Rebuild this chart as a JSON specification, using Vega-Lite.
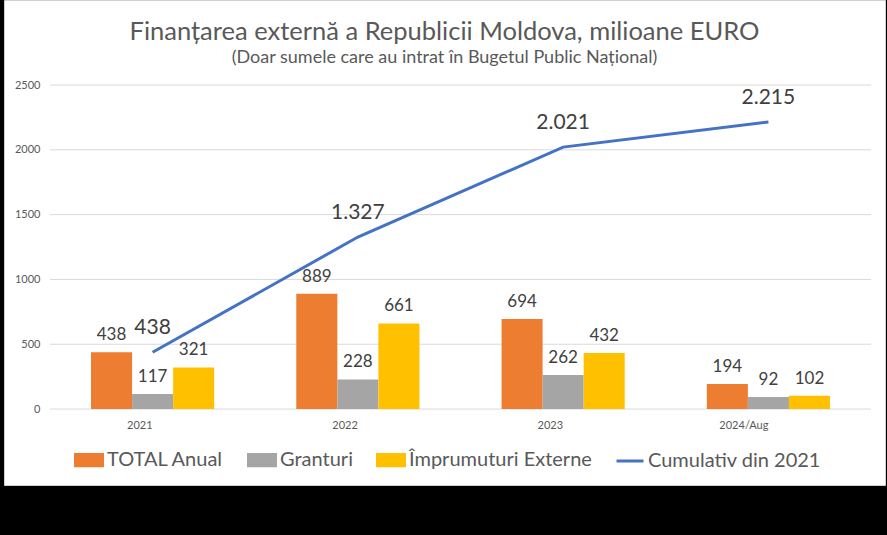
{
  "$schema": "https://vega.github.io/schema/vega-lite/v6.json",
  "description": "Finanțarea externă a Republicii Moldova, milioane EURO",
  "width": 881,
  "height": 485,
  "autosize": {"type": "none"},
  "padding": {"left": 4, "top": 0, "right": 2, "bottom": 50},
  "background": "black",
  "config": {
    "view": {"fill": "white", "stroke": "#d0d0d0"},
    "font": "Lato",
    "locale": {
      "number": {"decimal": ",", "thousands": ".", "grouping": [3], "currency": ["", " €"]}
    }
  },
  "title": {
    "text": "Finanțarea externă a Republicii Moldova, milioane EURO",
    "subtitle": "(Doar sumele care au intrat în Bugetul Public Național)",
    "anchor": "middle",
    "frame": "group",
    "offset": -67,
    "font": "Lato",
    "fontSize": 25.5,
    "fontWeight": "normal",
    "color": "#595959",
    "subtitleFont": "Lato",
    "subtitleFontSize": 18,
    "subtitleColor": "#595959",
    "subtitlePadding": 4
  },
  "datasets": {
    "bare": [
      {"an": "2021", "serie": "TOTAL Anual", "valoare": 438},
      {"an": "2021", "serie": "Granturi", "valoare": 117},
      {"an": "2021", "serie": "Împrumuturi Externe", "valoare": 321},
      {"an": "2022", "serie": "TOTAL Anual", "valoare": 889},
      {"an": "2022", "serie": "Granturi", "valoare": 228},
      {"an": "2022", "serie": "Împrumuturi Externe", "valoare": 661},
      {"an": "2023", "serie": "TOTAL Anual", "valoare": 694},
      {"an": "2023", "serie": "Granturi", "valoare": 262},
      {"an": "2023", "serie": "Împrumuturi Externe", "valoare": 432},
      {"an": "2024/Aug", "serie": "TOTAL Anual", "valoare": 194},
      {"an": "2024/Aug", "serie": "Granturi", "valoare": 92},
      {"an": "2024/Aug", "serie": "Împrumuturi Externe", "valoare": 102}
    ],
    "cumulat": [
      {"an": "2021", "cumulativ": 438},
      {"an": "2022", "cumulativ": 1327},
      {"an": "2023", "cumulativ": 2021},
      {"an": "2024/Aug", "cumulativ": 2215}
    ],
    "grila": [
      {"nivel": 0}, {"nivel": 500}, {"nivel": 1000},
      {"nivel": 1500}, {"nivel": 2000}, {"nivel": 2500}
    ]
  },
  "layer": [
    {
      "data": {"name": "grila"},
      "mark": {"type": "rule", "color": "#d9d9d9", "strokeWidth": 1},
      "encoding": {
        "x": {"datum": "2021", "bandPosition": 0},
        "x2": {"datum": "2024/Aug", "bandPosition": 1},
        "y": {"field": "nivel", "type": "quantitative"}
      }
    },
    {
      "data": {"name": "bare"},
      "mark": {"type": "bar"},
      "encoding": {
        "x": {
          "field": "an",
          "type": "nominal",
          "sort": ["2021", "2022", "2023", "2024/Aug"],
          "scale": {"paddingInner": 0, "paddingOuter": 0.146, "align": 0.767},
          "axis": {
            "title": null,
            "orient": "bottom",
            "offset": -76,
            "domain": false,
            "ticks": false,
            "grid": false,
            "labelAngle": 0,
            "labelPadding": 16,
            "labelFontSize": 11,
            "labelColor": "#595959"
          }
        },
        "xOffset": {
          "field": "serie",
          "sort": ["TOTAL Anual", "Granturi", "Împrumuturi Externe"],
          "scale": {"paddingInner": 0, "paddingOuter": 1.11}
        },
        "y": {
          "field": "valoare",
          "type": "quantitative",
          "scale": {"domain": [-586, 3156], "nice": false, "zero": false},
          "axis": {
            "title": null,
            "values": [0, 500, 1000, 1500, 2000, 2500],
            "format": "d",
            "offset": -46,
            "domain": false,
            "ticks": false,
            "grid": false,
            "labelPadding": 10,
            "labelFontSize": 11,
            "labelColor": "#595959"
          }
        },
        "color": {
          "field": "serie",
          "type": "nominal",
          "scale": {
            "domain": ["TOTAL Anual", "Granturi", "Împrumuturi Externe", "Cumulativ din 2021"],
            "range": ["#ED7D31", "#A5A5A5", "#FFC000", "#4472C4"]
          },
          "legend": {
            "title": null,
            "orient": "none",
            "direction": "horizontal",
            "legendX": 70,
            "legendY": 445,
            "padding": 0,
            "labelFont": "Lato",
            "labelFontSize": 20,
            "labelColor": "#595959",
            "labelLimit": 0,
            "labelOffset": 3,
            "columnPadding": 18,
            "symbolSize": 729,
            "encode": {
              "symbols": {
                "update": {
                  "shape": {"signal": "datum.value === 'Cumulativ din 2021' ? 'stroke' : 'M-1,-0.42H1V0.42H-1Z'"},
                  "fill": {"signal": "datum.value === 'Cumulativ din 2021' ? 'transparent' : scale('color', datum.value)"},
                  "stroke": {"signal": "datum.value === 'Cumulativ din 2021' ? '#4472C4' : 'transparent'"},
                  "strokeWidth": {"value": 3},
                  "opacity": {"value": 1}
                }
              }
            }
          }
        }
      }
    },
    {
      "data": {"name": "bare"},
      "mark": {"type": "text", "baseline": "middle", "dy": -17, "fontSize": 17, "color": "#404040"},
      "encoding": {
        "x": {"field": "an", "type": "nominal", "sort": ["2021", "2022", "2023", "2024/Aug"]},
        "xOffset": {"field": "serie", "sort": ["TOTAL Anual", "Granturi", "Împrumuturi Externe"]},
        "y": {"field": "valoare", "type": "quantitative"},
        "text": {"field": "valoare", "type": "quantitative"}
      }
    },
    {
      "data": {"name": "cumulat"},
      "mark": {"type": "line", "strokeWidth": 3},
      "encoding": {
        "x": {"field": "an", "type": "nominal", "sort": ["2021", "2022", "2023", "2024/Aug"]},
        "y": {"field": "cumulativ", "type": "quantitative"},
        "color": {"datum": "Cumulativ din 2021"}
      }
    },
    {
      "data": {"name": "cumulat"},
      "mark": {"type": "text", "baseline": "middle", "dy": -24, "fontSize": 21, "color": "#404040"},
      "encoding": {
        "x": {"field": "an", "type": "nominal", "sort": ["2021", "2022", "2023", "2024/Aug"]},
        "y": {"field": "cumulativ", "type": "quantitative"},
        "text": {"field": "cumulativ", "type": "quantitative", "format": ",d"}
      }
    }
  ]
}
